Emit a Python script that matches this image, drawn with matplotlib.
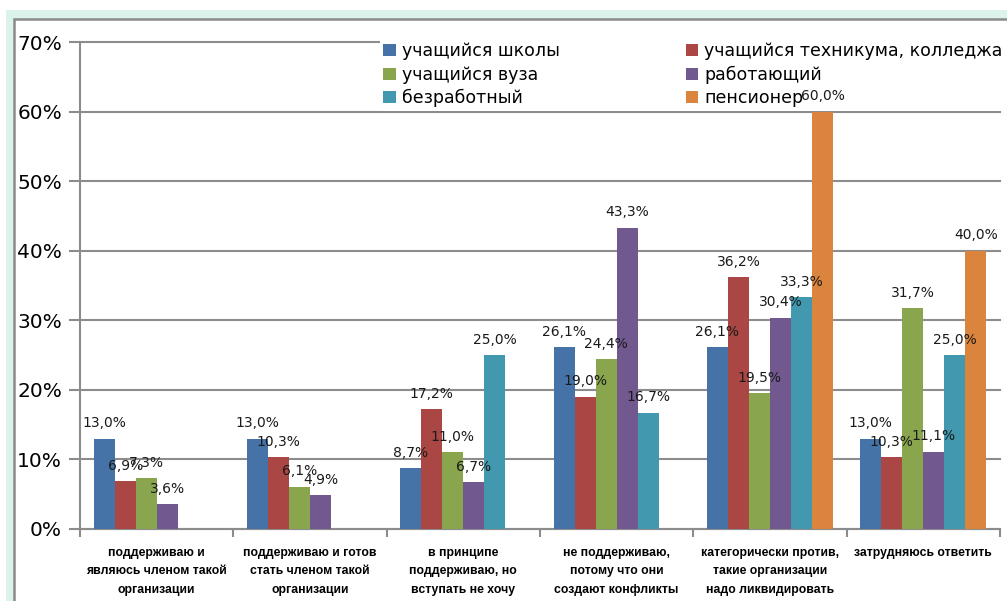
import matplotlib
matplotlib.use("Agg")
import matplotlib.pyplot as plt
import numpy as np
from matplotlib.patches import Rectangle

# categories (x axis)
categories = [
    "поддерживаю и\nявляюсь членом такой\nорганизации",
    "поддерживаю и готов\nстать членом такой\nорганизации",
    "в принципе\nподдерживаю, но\nвступать не хочу",
    "не поддерживаю,\nпотому что они\nсоздают конфликты",
    "категорически против,\nтакие организации\nнадо ликвидировать",
    "затрудняюсь ответить",
]

# series values, % (0 = no answer in that group)
school = [13.0, 13.0, 8.7, 26.1, 26.1, 13.0]
college = [6.9, 10.3, 17.2, 19.0, 36.2, 10.3]
university = [7.3, 6.1, 11.0, 24.4, 19.5, 31.7]
working = [3.6, 4.9, 6.7, 43.3, 30.4, 11.1]
unemployed = [0, 0, 25.0, 16.7, 33.3, 25.0]
pensioner = [0, 0, 0, 0, 60.0, 40.0]

series_names = ["учащийся школы", "учащийся техникума, колледжа", "учащийся вуза",
                "работающий", "безработный", "пенсионер"]
series_vals = [school, college, university, working, unemployed, pensioner]
colors = ["#4572A7", "#AA4643", "#89A54E", "#71588F", "#4198AF", "#DB843D"]

fig = plt.figure(figsize=(10.07, 6.01), dpi=100)
fig.patch.set_facecolor("white")

# mint frame and white chart panel behind everything
fig.patches.append(Rectangle((6 / 1007, -0.1), 1.2, 1 - 10 / 601 + 0.1,
                             transform=fig.transFigure, facecolor="#dcf3ec",
                             edgecolor="none", zorder=-10))
fig.patches.append(Rectangle((14 / 1007, -0.1), 1.2, 1 - 19 / 601 + 0.1,
                             transform=fig.transFigure, facecolor="white",
                             edgecolor="#8a8a8a", linewidth=1.8, zorder=-9))

ax = fig.add_axes([80 / 1007, 1 - 529 / 601, 920 / 1007, 487 / 601])
ax.set_facecolor("none")

x = np.arange(len(categories))
w = 0.137
offsets = (np.arange(6) - 2.5) * w

bars = []
for i, (name, vals) in enumerate(zip(series_names, series_vals)):
    b = ax.bar(x + offsets[i], vals, width=w, color=colors[i], label=name, zorder=3)
    bars.append(b)
    for xi, v in zip(x, vals):
        if v > 0:
            ax.annotate(f"{v:.1f}%".replace(".", ","), (xi + offsets[i], v),
                        xytext=(0, 6), textcoords="offset points",
                        ha="center", va="bottom", fontsize=10, color="#1a1a1a",
                        zorder=6)

ax.set_xlim(-0.5, len(categories) - 0.5)
ax.set_ylim(0, 70)
ax.set_yticks(np.arange(0, 71, 10))
ax.set_yticklabels([f"{t}%" for t in range(0, 71, 10)], fontsize=14.5)
ax.yaxis.grid(True, color="#8c8c8c", linewidth=1.5, zorder=0)
for gl in ax.get_ygridlines():
    gl.set_clip_on(False)
ax.set_axisbelow(True)

ax.set_xticks(x)
ax.set_xticklabels(categories, fontsize=8.8, fontweight="bold",
                   family="Liberation Sans", linespacing=1.7)
ax.set_xticks(np.arange(len(categories) + 1) - 0.5, minor=True)
ax.tick_params(axis="x", which="major", length=0, pad=13)
ax.tick_params(axis="x", which="minor", length=6, width=1.5, color="#8c8c8c")
ax.tick_params(axis="y", length=8, width=1.5, color="#8c8c8c", pad=5)

for s in ["top", "right"]:
    ax.spines[s].set_visible(False)
for s in ["left", "bottom"]:
    ax.spines[s].set_color("#8c8c8c")
    ax.spines[s].set_linewidth(1.5)

order = [0, 2, 4, 1, 3, 5]
leg = ax.legend([bars[k] for k in order], [series_names[k] for k in order],
                ncol=2, loc="upper left", mode="expand",
                bbox_to_anchor=(380 / 1007, 1 - 39 / 601 - 0.1, 626 / 1007, 0.1),
                bbox_transform=fig.transFigure, frameon=True, fancybox=False,
                edgecolor="none", facecolor="white", framealpha=1,
                fontsize=12.5, handlelength=0.7, handleheight=0.7,
                handletextpad=0.35, labelspacing=0.3, borderpad=0.2,
                borderaxespad=0)
leg.set_zorder(5)

plt.savefig("out.png", dpi=100)
